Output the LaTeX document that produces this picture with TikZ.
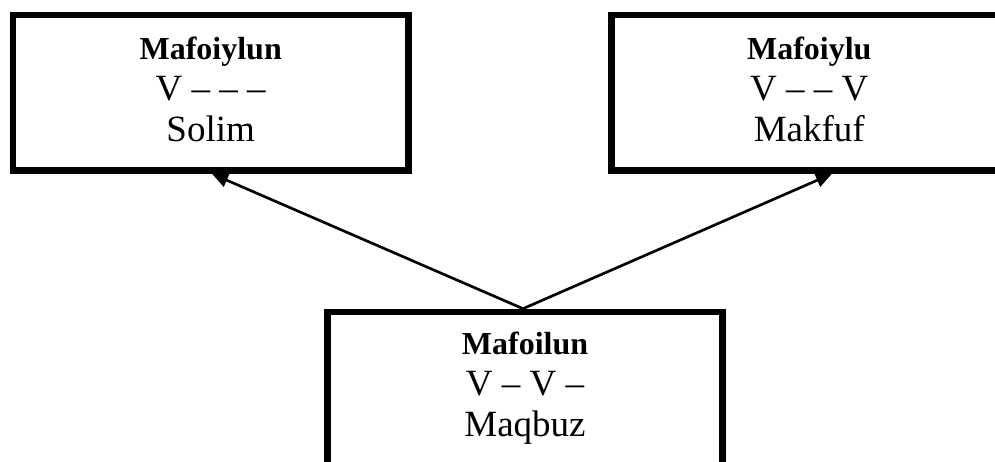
\documentclass[tikz,border=0pt]{standalone}
\usepackage{fontspec}
\setmainfont{Liberation Serif}
\usetikzlibrary{arrows.meta}
\begin{document}
\begin{tikzpicture}[x=0.75pt,y=-0.75pt,
  box/.style={draw, line width=5pt, rectangle, minimum width=296.6pt, minimum height=116.6pt,
    inner sep=0pt, align=center, font=\fontsize{27.75}{31}\selectfont,
    text height=73.4pt, text depth=0pt},
  conn/.style={line width=2pt, -{Triangle[length=12pt,width=10.5pt]}}]
\useasboundingbox (0,0) rectangle (995,461);
\node[box] (L) at (210.7,92.75) {{\bfseries\fontsize{24}{30}\selectfont Mafoiylun}\\V – – –\\Solim};
\node[box] (R) at (809.25,92.75) {{\bfseries\fontsize{24}{30}\selectfont Mafoiylu}\\V – – V\\Makfuf};
\node[box, text height=70.4pt] (B) at (525,389.75) {{\bfseries\fontsize{24}{30}\selectfont Mafoilun}\\V – V –\\Maqbuz};
\draw[conn] ([xshift=-1.5pt]B.north) -- ([xshift=1pt]L.south);
\draw[conn] ([xshift=-1.5pt]B.north) -- ([xshift=17pt]R.south);
\end{tikzpicture}
\end{document}
